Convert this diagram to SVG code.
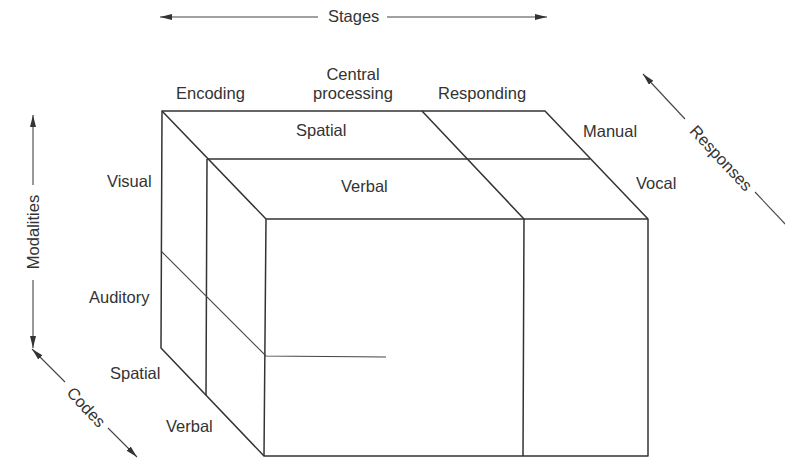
<svg xmlns="http://www.w3.org/2000/svg" width="785" height="459" viewBox="0 0 785 459">
<defs>
<marker id="ah" viewBox="0 0 12 6" refX="12" refY="3" markerWidth="12" markerHeight="6" markerUnits="userSpaceOnUse" orient="auto">
<path d="M0,0 L12,3 L0,6 z" fill="#333"/>
</marker>
<style>
text{font-family:"Liberation Sans",Arial,sans-serif;font-size:16.5px;fill:#333}
.edge{stroke:#333;stroke-width:1.5;fill:none;stroke-linejoin:round}
.thin{stroke:#444;stroke-width:1.1;fill:none}
.arr{stroke:#444;stroke-width:1.1;fill:none;marker-end:url(#ah)}
</style>
</defs>
<rect width="785" height="459" fill="#fff"/>
<g id="cube">
<path class="edge" d="M162,111 L545,111 L648,219 L648,456 L264,456 L161,348 L162,111 Z"/>
<path class="edge" d="M162,111 L266,219 L648,219 M266,219 L264,456"/>
<path class="edge" d="M207,159 L590,159 M207,159 L206,395"/>
<path class="edge" d="M422,111 L524,219 L523,456"/>
<path class="thin" d="M161,251 L266,356 L386,357"/>
</g>
<g id="connectors">
<line class="arr" x1="318" y1="17" x2="160" y2="17"/>
<line class="arr" x1="387" y1="17" x2="547" y2="17"/>
<line class="arr" x1="33" y1="185" x2="33" y2="115"/>
<line class="arr" x1="33" y1="280" x2="33" y2="348"/>
<line class="arr" x1="65" y1="382" x2="32" y2="349"/>
<line class="arr" x1="108" y1="428" x2="137" y2="457"/>
<line class="arr" x1="685" y1="119" x2="643" y2="74"/>
<line class="thin" x1="755" y1="192" x2="787" y2="226"/>
</g>
<g id="labels">
<text x="328" y="22">Stages</text>
<text x="176" y="99">Encoding</text>
<text x="353" y="80" text-anchor="middle">Central</text>
<text x="353" y="99" text-anchor="middle">processing</text>
<text x="438" y="99">Responding</text>
<text x="296" y="136">Spatial</text>
<text x="341" y="192">Verbal</text>
<text x="583" y="137">Manual</text>
<text x="636" y="189">Vocal</text>
<text x="107" y="187">Visual</text>
<text x="89" y="303">Auditory</text>
<text x="110" y="379">Spatial</text>
<text x="166" y="432">Verbal</text>
<text x="0" y="0" text-anchor="middle" transform="translate(39,232) rotate(-90)">Modalities</text>
<text x="0" y="0" text-anchor="middle" transform="translate(82,411) rotate(47)">Codes</text>
<text x="0" y="0" text-anchor="middle" transform="translate(717,162) rotate(47)">Responses</text>
</g>
</svg>
